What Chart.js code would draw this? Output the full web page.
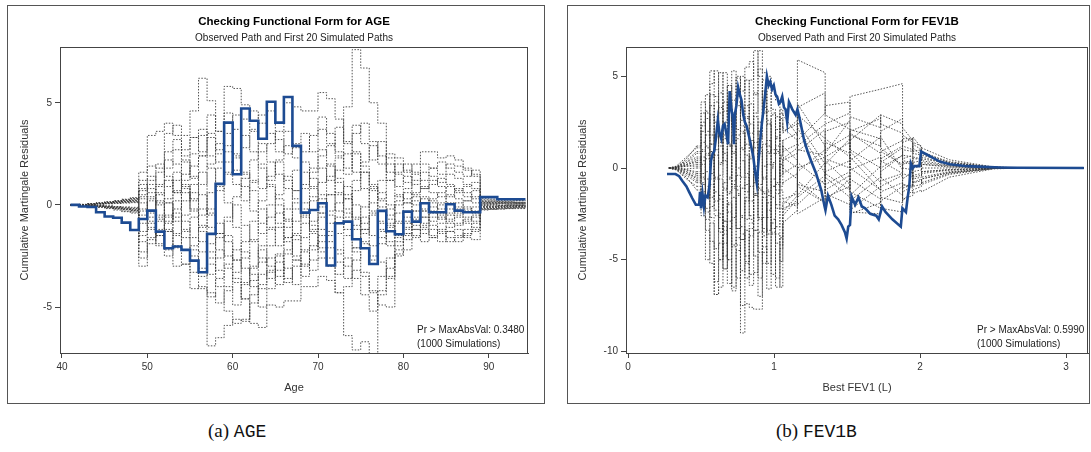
<!DOCTYPE html>
<html>
<head>
<meta charset="utf-8">
<script src="https://cdn.jsdelivr.net/npm/chart.js@4.4.1/dist/chart.umd.min.js"></script>
<style>
  body { margin: 0; background: #fff; width: 1091px; height: 452px; position: relative; overflow: hidden; }
  .frame { position: absolute; border: 1px solid #555; }
  .caption { position: absolute; top: 420px; font-family: "Liberation Serif", "DejaVu Serif", serif; font-size: 19px; color: #111; white-space: nowrap; }
  .caption .tt { font-family: "Liberation Mono", "DejaVu Sans Mono", monospace; font-size: 18px; }
</style>
</head>
<body>
<div class="frame" style="left:7px;top:5px;width:536px;height:397px"><canvas id="ageChart" width="536" height="397"></canvas></div>
<div class="frame" style="left:567px;top:5px;width:521px;height:397px"><canvas id="fevChart" width="521" height="397"></canvas></div>
<div class="caption" style="left:208px">(a) <span class="tt">AGE</span></div>
<div class="caption" style="left:776px">(b) <span class="tt">FEV1B</span></div>

<script>
// ---- Panel (a): AGE ----
const ageX = [41,42,43,44,45,46,47,48,49,50,51,52,53,54,55,56,57,58,59,60,61,62,63,64,65,66,67,68,69,70,
  71,72,73,74,75,76,77,78,79,80,81,82,83,84,85,86,87,88,89,90,91,92,93,94.3];
const ageObserved = [0,-0.08,-0.1,-0.36,-0.57,-0.63,-0.87,-1.23,
  -0.69,-0.28,-1.31,-2.12,-2.04,-2.2,-2.73,-3.3,-1.42,1.03,
  4.03,1.5,4.72,4.12,3.24,5.05,4.03,5.28,2.89,-0.38,
  -0.25,0.08,-2.97,-0.9,-0.82,-1.68,-2.12,-2.89,-0.29,-1.29,
  -1.44,-0.33,-0.82,0.08,-0.36,-0.36,0.03,-0.28,-0.36,-0.36,
  0.38,0.38,0.28,0.28,0.28,0.28];
// first 20 simulated paths (values at each ageX)
const ageSims = [
  [0,0,0.05,0.1,0.15,0.2,0.25,0.3, 1.6,1.9,1.8,3.5,3.9,3.4,4.6,6.2,5.1,3.6, 2.9,2.3,1.5,1.2,0.8,1.4,2.2,2.9,2.3,1.6, 0.9,1.8,1.2,0.5,-0.4,-1.2,-0.6,-1.5,-0.9,-0.2, 0.5,0.1,-0.3,0.4,0.2,0.1,0.5,0.3,0.2,0.1, 0.2,0.2,0.15,0.15,0.1,0.1],
  [0,0,-0.05,-0.1,-0.15,-0.2,-0.3,-0.35, -3.0,-1.9,-1.2,-2.2,-3.0,-2.9,-4.1,-4.0,-6.9,-6.5, -5.9,-5.6,-5.7,-4.8,-3.9,-3.2,-2.4,-1.6,-2.5,-3.0, -2.2,-1.5,-2.1,-2.8,-3.6,-2.7,-1.9,-2.5,-1.6,-1.0, -1.4,-0.8,-1.2,-1.8,-1.6,-1.2,-1.1,-0.9,-0.7,-0.5, -0.2,-0.2,-0.15,-0.1,-0.1,-0.1],
  [0,0.02,0.04,0.08,0.12,0.18,0.22,0.28, 0.8,3.4,3.6,4.0,3.4,2.7,3.3,3.7,2.4,2.1, 5.8,5.7,4.9,3.6,2.6,3.0,3.6,5.0,4.8,4.6, 4.6,5.5,5.2,4.2,3.1,2.5,1.6,0.7,1.2,2.5, 2.3,1.6,2.0,2.6,2.6,2.3,2.4,2.2,1.8,1.5, 0.3,0.28,0.26,0.25,0.22,0.22],
  [0,-0.02,-0.04,-0.06,-0.1,-0.12,-0.18,-0.25, -1.8,-1.2,-2.0,-2.5,-1.5,-2.2,-3.3,-4.1,-4.5,-3.6, -2.9,-3.8,-4.6,-5.8,-6.0,-4.9,-5.0,-4.7,-4.7,-4.0, -4.0,-3.5,-3.7,-4.3,-4.0,-3.2,-3.5,-4.2,-4.9,-5.0, -2.5,-2.2,-1.6,-1.2,-1.5,-1.3,-1.8,-1.6,-1.2,-0.9, -0.25,-0.22,-0.2,-0.18,-0.15,-0.15],
  [0,0.03,0.06,0.1,0.15,0.2,0.28,0.36, 0.4,0.6,0.1,-0.5,0.7,1.2,1.9,2.4,3.3,2.7, 3.5,4.4,4.2,4.6,4.0,4.6,3.2,2.5,3.0,3.5, 2.6,3.7,3.0,2.4,4.8,7.6,6.7,5.0,4.0,2.0, 1.5,1.1,0.5,0.8,1.2,0.9,0.4,0.8,0.6,0.3, 0.1,0.12,0.12,0.1,0.08,0.08],
  [0,-0.03,-0.07,-0.12,-0.18,-0.25,-0.33,-0.4, -0.9,-0.4,0.5,1.2,0.6,-0.8,-1.6,-2.3,-3.4,-2.6, -1.5,-2.7,-3.8,-3.1,-2.0,-1.2,-0.4,-1.6,-0.8,0.1, -1.0,-2.1,-3.0,-4.3,-6.4,-7.1,-6.7,-7.3,-4.2,-3.1, -2.0,-1.4,-0.8,-1.0,-1.6,-1.8,-1.3,-1.2,-1.6,-1.7, -0.1,-0.1,-0.08,-0.06,-0.05,-0.05],
  [0,0.01,0.03,0.07,0.1,0.14,0.17,0.2, 1.2,1.4,0.6,0.1,-0.6,0.2,1.0,1.6,-0.4,-1.4, -0.6,0.4,1.3,2.2,3.0,2.1,1.5,0.8,1.7,2.6, 3.4,4.3,3.5,2.6,1.8,3.5,4.0,3.1,2.4,1.6, 0.9,1.4,1.0,1.6,1.4,1.1,1.5,1.3,1.0,0.8, 0.05,0.05,0.06,0.04,0.04,0.04],
  [0,-0.01,-0.02,-0.05,-0.09,-0.14,-0.2,-0.28, -2.3,-1.6,-0.7,-1.3,-2.0,-1.3,-0.6,-1.8,-2.9,-4.0, -5.2,-5.8,-5.6,-4.4,-3.4,-2.6,-3.5,-2.4,-1.5,-2.3, -3.2,-2.6,-1.8,-2.4,-1.5,-2.3,-3.3,-4.3,-3.5,-2.6, -1.8,-1.2,-0.6,-0.9,-0.6,-0.4,-0.7,-0.5,-0.3,-0.1, -0.05,-0.06,-0.04,-0.03,-0.03,-0.03],
  [0,0.02,0.05,0.09,0.13,0.18,0.25,0.32, 0.1,-0.8,-1.5,-0.9,0.2,0.9,0.3,-0.5,0.6,1.8, 2.6,1.7,0.9,-0.3,-1.4,-0.6,0.5,1.4,0.7,-0.4, -1.2,-0.6,0.5,1.7,2.5,1.6,0.8,-0.3,-1.2,-0.5, 0.2,0.8,1.5,2.0,1.8,1.5,2.0,1.9,1.7,1.4, 0.18,0.16,0.15,0.14,0.13,0.13],
  [0,-0.02,-0.06,-0.1,-0.14,-0.19,-0.24,-0.3, -0.5,0.4,1.0,1.8,2.7,2.1,1.3,2.4,1.8,0.9, 0.1,-1.1,-2.3,-3.4,-4.1,-3.3,-2.5,-3.6,-2.7,-1.6, -0.8,0.3,-0.5,-1.4,-0.6,0.7,1.6,0.9,0.2,-0.7, -1.6,-0.9,-0.3,0.3,0.1,-0.2,-0.4,-0.2,-0.1,-0.3, -0.15,-0.14,-0.12,-0.12,-0.1,-0.1],
  [0,0,0.02,0.05,0.08,0.12,0.16,0.21, -0.2,-1.1,-1.9,-1.3,-0.4,-1.2,-2.2,-3.1,-4.3,-4.8, -4.2,-3.3,-2.6,-1.7,-2.6,-3.6,-2.8,-3.8,-3.0,-2.2, -1.4,-2.3,-1.5,-0.6,0.3,-0.7,-1.8,-2.7,-1.9,-1.1, -0.4,-1.1,-0.7,-0.3,-0.8,-0.6,-0.9,-1.0,-0.8,-0.6, 0.02,0.02,0,0.01,0,0],
  [0,-0.01,-0.03,-0.05,-0.07,-0.1,-0.15,-0.18, 0.7,1.2,2.0,1.4,0.6,1.5,2.5,3.4,4.4,3.6, 4.5,3.7,2.8,3.7,4.4,3.5,2.6,3.6,2.8,2.1, 1.3,0.5,1.4,2.3,1.5,2.6,1.9,1.0,0.3,1.2, 2.0,1.7,1.2,0.8,1.0,1.3,1.0,0.7,0.9,1.1, 0.25,0.24,0.22,0.2,0.2,0.2],
  [0,0.01,0.04,0.06,0.09,0.11,0.14,0.16, -1.3,-0.6,0.2,0.9,1.6,0.8,-0.2,-1.0,-1.9,-0.9, -1.8,-2.7,-1.8,-0.8,0.2,1.0,0.3,-0.7,-1.7,-0.9, 0.2,1.1,2.0,1.3,0.5,-0.6,-1.4,-0.5,0.6,0.0, -0.8,-1.5,-1.0,-1.4,-1.2,-0.9,-1.3,-1.5,-1.4,-1.2, -0.18,-0.18,-0.16,-0.15,-0.14,-0.14],
  [0,-0.02,-0.04,-0.07,-0.11,-0.16,-0.22,-0.26, 0.3,-0.3,0.9,2.2,2.0,1.0,0.2,1.0,2.0,3.0, 2.1,1.0,0.2,1.1,2.0,1.2,2.1,1.2,0.3,-0.6, 0.4,-0.4,-1.3,-2.2,-3.0,-2.1,-1.2,-2.0,-2.8,-3.6, -2.2,-1.4,-1.5,-1.1,-0.4,-0.7,-0.2,0.1,-0.2,-0.4, -0.08,-0.07,-0.06,-0.06,-0.05,-0.05],
  [0,0.02,0.03,0.05,0.07,0.09,0.12,0.14, -0.7,0.2,-0.5,-1.2,-2.1,-2.9,-2.0,-1.1,-0.2,0.7, 1.6,2.5,3.4,2.6,1.8,0.9,0.0,-0.8,0.1,1.0, 1.8,2.7,1.9,1.1,0.3,1.2,2.1,2.9,2.0,1.2, 0.4,0.3,0.6,0.9,0.6,0.4,0.1,-0.1,0.2,0.4, 0.12,0.1,0.1,0.09,0.08,0.08],
  [0,-0.01,-0.01,-0.03,-0.05,-0.08,-0.1,-0.12, -1.5,-0.9,-1.5,-0.6,-1.4,-0.5,0.6,-0.2,-1.1,-2.2, -3.1,-2.2,-3.1,-4.0,-5.0,-4.1,-3.2,-2.2,-1.4,-0.5, -1.3,-0.4,0.5,-0.3,-1.2,-2.1,-1.2,-0.4,-1.3,-2.0, -1.5,-0.6,0.2,-0.3,-0.1,-0.5,-0.8,-0.6,-0.9,-1.1, -0.22,-0.2,-0.2,-0.18,-0.18,-0.18],
  [0,0.01,0.02,0.03,0.05,0.07,0.09,0.11, 0.5,1.0,1.6,2.6,3.2,2.4,3.3,2.6,3.5,2.5, 1.5,2.4,1.6,0.7,-0.2,-1.1,-2.0,-1.1,-0.2,0.8, 1.6,2.4,2.9,3.8,3.0,3.9,3.0,2.2,3.1,2.3, 1.6,2.0,1.6,1.2,1.8,2.1,1.8,1.6,1.4,1.7, 0.15,0.14,0.14,0.13,0.12,0.12],
  [0,-0.01,-0.02,-0.04,-0.06,-0.09,-0.12,-0.16, -2.6,-1.7,-0.8,0.1,-0.8,-1.6,-2.5,-3.5,-2.6,-1.6, -0.8,0.0,-1.0,-1.8,-0.9,0.0,-0.9,-1.8,-2.7,-3.5, -2.7,-1.8,-2.6,-3.4,-2.6,-3.6,-4.4,-5.2,-4.4,-3.5, -2.4,-1.7,-1.2,-0.6,-1.0,-1.4,-1.6,-1.8,-1.5,-1.3, -0.12,-0.12,-0.1,-0.1,-0.08,-0.08],
  [0,0.02,0.04,0.07,0.11,0.15,0.2,0.24, 1.0,0.3,-0.6,0.3,1.2,2.2,1.4,0.5,-0.5,-1.4, -2.5,-3.6,-4.6,-3.7,-2.8,-2.0,-1.1,-0.2,0.7,-0.2, 0.8,-0.1,-0.9,0.1,0.9,0.0,-0.9,0.1,-0.8,-1.8, -0.9,0.1,0.4,-0.2,0.3,0.6,0.9,0.6,0.4,0.7, 0.08,0.07,0.07,0.06,0.05,0.05],
  [0,-0.03,-0.05,-0.08,-0.12,-0.17,-0.2,-0.22, -0.3,0.8,0.0,-0.8,-0.2,0.6,-0.3,-1.3,-2.3,-3.2, -4.0,-4.9,-3.9,-3.0,-2.2,-3.0,-3.9,-3.1,-3.9,-2.9, -2.0,-1.2,-0.3,0.6,-0.2,-1.0,-0.1,0.8,-0.1,-0.9, 0.0,0.6,0.0,-0.6,-0.3,0.0,-0.5,-0.4,-0.6,-0.8, -0.03,-0.04,-0.03,-0.02,-0.02,-0.02]
];
const ageXTicks = [40,50,60,70,80,90];
const ageYTicks = [-5,0,5];

// ---- Panel (b): FEV1B ----
const fevObsX = [0.267,0.325,0.35,0.371,0.40,0.418,0.44,0.464,0.487,0.493,0.50,0.51,0.52,0.53,0.545,0.557,0.568,0.58,0.59,0.603,
  0.615,0.626,0.638,0.65,0.661,0.673,0.685,0.696,0.708,0.719,0.725,0.731,0.742,0.754,0.766,0.777,0.789,0.80,0.812,0.835,
  0.858,0.870,0.882,0.893,0.905,0.916,0.928,0.940,0.951,0.963,0.974,0.986,0.998,1.01,1.021,1.033,1.044,1.056,1.068,1.079,
  1.090,1.102,1.125,1.148,1.16,1.172,1.183,1.206,1.230,1.253,1.288,1.323,1.346,1.352,1.369,1.392,1.415,1.439,1.462,1.485,
  1.497,1.508,1.52,1.531,1.555,1.578,1.601,1.624,1.659,1.70,1.717,1.74,1.763,1.81,1.868,1.879,1.903,1.915,1.926,1.937,
  1.95,1.961,1.995,2.007,2.042,2.088,2.135,2.204,2.32,2.436,2.552,2.668,3.121];
const fevObserved = [-0.33,-0.33,-0.45,-0.7,-1.0,-1.3,-1.65,-2.0,-2.0,-1.3,-2.2,-1.4,-2.1,-1.5,-1.6,-1.0,0.4,0.8,0.9,1.7,
  2.6,1.9,1.6,2.3,2.4,1.9,1.3,4.2,3.2,2.7,1.3,2.9,3.4,4.4,4.0,3.7,2.9,2.5,2.3,1.5,
  0.6,-0.2,-0.85,0.3,1.5,2.4,3.2,4.1,5.0,4.5,4.7,4.3,4.5,4.0,3.9,3.5,3.6,3.9,3.3,3.2,
  2.5,3.6,3.2,2.9,3.2,2.8,2.4,1.5,0.9,0.4,-0.3,-1.2,-2.1,-2.3,-1.5,-2.0,-2.6,-2.8,-3.1,-3.5,
  -3.85,-3.2,-3.1,-1.55,-2.0,-1.6,-2.1,-2.2,-2.5,-2.6,-2.8,-2.1,-2.4,-2.8,-3.2,-2.2,-2.4,-1.6,-1.0,0.25,
  0.0,0.1,0.1,0.9,0.75,0.55,0.35,0.2,0.1,0.06,0.03,0.01,0.0];
// repeated x values mark the vertical jumps of the simulated paths
const fevSimX = [0.28,0.33,0.40,0.47,0.50,0.53,0.56,0.59,0.62,0.65,0.68,0.71,0.74,0.77,0.80,0.83,0.86,0.89,0.92,0.95,
  0.98,1.01,1.04,1.06,1.16,1.16,1.35,1.35,1.52,1.52,1.73,1.73,1.88,1.88,1.95,1.95,2.01,2.01,2.2,2.5,2.7,3.12];
const fevSims = [
  [0,0,0.5,1.2,3.6,2.0,4.0,2.5,5.2,3.1, 4.5,2.2,3.4,1.0,2.7,4.8,6.4,5.0,3.0,5.0, 3.2,1.6,2.4,1.9,2.6,5.9,5.2,2.4,3.0,3.9, 4.3,4.3,4.6,1.4,1.6,0.9,1.0,0.5,0.25,0.05, 0,0],
  [0,-0.1,-0.6,-1.0,-2.6,-5.0,-3.0,-6.9,-4.1,-5.5, -2.0,-6.7,-3.8,-9.0,-5.2,-3.3,-1.5,-2.8,-5.2,-1.9, -3.5,-6.5,-4.4,-2.6,-1.7,-2.5,-1.6,-1.8,-0.6,-2.5, -1.9,-1.3,-0.8,-1.8,-1.2,-1.4,-1.2,-1.3,-0.5,-0.05, 0,0],
  [0,0.05,0.3,0.8,-0.5,1.8,5.3,3.9,1.4,5.2, 2.6,5.3,2.1,0.4,-1.3,0.5,2.8,1.1,-0.6,1.5, 0.2,2.1,3.2,2.9,1.8,3.5,1.2,0.8,2.6,2.8, 2.2,2.9,2.4,2.2,1.5,1.7,1.1,0.8,0.35,0.05, 0,0],
  [0,-0.05,-0.3,-0.5,0.6,-2.2,-4.0,-6.9,-6.5,-3.2, -6.3,-1.6,-4.2,-7.5,-7.4,-7.6,-7.7,-7.7,-4.3,-6.6, -2.8,-4.1,-6.5,-3.0,-2.3,-0.7,-1.9,0.6,1.4,-0.6, -1.7,-2.2,-2.4,0.2,0.4,-0.8,-0.6,-0.9,-0.35,-0.03, 0,0],
  [0,0.1,0.6,1.1,2.3,4.0,1.3,2.8,0.2,3.6, 1.3,-0.9,1.8,4.2,5.5,5.8,4.0,6.4,5.2,3.1, 4.2,3.7,1.5,0.9,1.3,2.2,-0.3,-1.2,-0.4,-1.3, -2.2,-1.0,-0.4,-1.1,-0.9,0.3,0.4,0.6,0.2,0.03, 0,0],
  [0,-0.1,-0.5,-1.2,-1.5,0.5,-2.1,-0.6,-3.3,-0.8, 1.2,3.0,4.9,2.3,0.7,-1.8,-3.4,-0.9,1.3,-1.2, -3.3,-1.4,0.6,1.2,0.4,-1.5,0.3,-0.3,-1.2,0.4, 1.7,1.1,0.1,-0.6,-0.2,-1.0,-0.9,-0.6,-0.25,-0.02, 0,0],
  [0,0.02,0.2,0.5,2.0,3.1,4.6,5.3,3.0,0.8, -1.4,0.9,3.6,2.0,-0.5,-2.8,-0.4,2.0,4.2,2.6, 0.3,-1.2,0.5,0.0,-0.6,0.9,2.1,1.6,0.6,1.9, 0.8,0.4,-0.3,1.0,0.9,1.3,1.0,0.3,0.12,0.01, 0,0],
  [0,-0.03,-0.2,-0.6,-0.9,-3.4,-5.2,-6.2,-5.0,-3.6, -5.0,-6.5,-4.5,-2.7,-4.8,-6.4,-5.7,-3.5,-1.6,-3.6, -5.8,-3.2,-1.2,-1.7,-1.4,-2.0,-0.6,-1.4,-2.0,-2.3, -1.0,-1.6,-1.9,-0.9,-1.0,-0.5,-0.4,0.2,0.1,0.01, 0,0],
  [0,0.08,0.4,0.9,3.0,1.1,-1.6,1.0,3.3,0.4, -2.4,-4.2,-1.5,1.1,3.4,1.5,-0.8,-2.7,0.1,2.4, 0.8,-0.9,-2.2,-1.8,-2.1,1.5,3.0,3.4,3.6,1.8, 1.2,2.0,2.7,1.8,1.4,1.1,0.7,1.1,0.45,0.06, 0,0],
  [0,-0.08,-0.4,-0.8,-0.3,-1.6,0.9,-2.3,-5.0,-2.9, -0.6,1.5,-1.2,-3.9,-1.8,0.6,-1.4,-4.6,-2.7,0.2, -1.6,-3.6,-5.1,-2.4,-1.5,-0.2,1.0,1.4,0.8,-0.1, 0.6,-0.5,-1.5,-1.3,-1.0,-0.2,-0.1,-0.5,-0.2,-0.02, 0,0],
  [0,0.04,0.2,0.3,1.4,2.7,0.6,-1.8,0.3,2.5, 4.5,2.3,0.0,-2.6,-0.9,1.9,4.1,1.8,-0.5,-2.7, -0.6,1.7,-0.4,0.5,1.1,2.5,0.2,1.0,1.8,1.5, 2.9,2.4,1.9,1.2,1.0,0.5,0.5,0.4,0.15,0.02, 0,0],
  [0,-0.02,-0.1,-0.3,0.9,-0.6,-2.7,-4.4,-2.5,-4.8, -2.9,-0.7,1.6,-0.5,-2.8,-1.0,1.4,-1.1,-3.3,-5.2, -3.0,-0.8,1.2,0.6,0.0,-1.0,-1.9,-0.9,-0.2,-1.8, -0.5,0.3,1.1,-0.3,-0.5,0.1,0.2,-0.2,-0.08,-0.01, 0,0],
  [0,0.03,0.1,0.2,-0.8,0.7,2.9,0.7,-1.5,-3.4, -1.3,1.2,-1.0,-3.2,-5.1,-3.0,-0.6,1.6,3.3,1.2, -1.0,0.9,2.7,2.0,2.4,0.3,-0.9,0.2,1.6,0.9, -0.8,-0.2,0.7,1.6,1.6,0.8,0.7,0.9,0.3,0.04, 0,0],
  [0,-0.06,-0.3,-0.7,-1.3,1.2,3.4,1.0,-1.7,-4.1, -1.9,-4.3,-6.0,-3.9,-1.6,0.7,-1.5,0.8,-1.4,0.8, 2.9,0.8,-1.0,-0.8,-0.3,-1.6,-0.4,0.4,-0.9,-1.5, 0.1,0.9,1.5,0.7,0.6,-0.4,-0.3,-0.3,-0.12,-0.01, 0,0],
  [0,0.06,0.3,0.6,0.2,-2.4,-0.3,2.2,4.1,1.8, -0.5,1.8,3.9,5.0,2.8,0.6,3.0,5.4,3.1,0.9, 3.0,1.0,-0.8,0.4,0.8,3.3,4.1,2.9,2.1,1.0, 0.0,0.5,1.2,0.5,0.7,1.4,1.2,0.7,0.3,0.04, 0,0],
  [0,-0.04,-0.2,-0.4,-2.0,-0.2,1.8,-0.5,-2.7,-5.5, -3.3,-1.1,-3.3,-5.6,-3.4,-5.8,-3.4,-6.0,-3.7,-1.5, -3.6,-6.0,-3.8,-2.2,-1.9,0.0,0.6,-0.5,-1.6,-2.4, -2.5,-1.8,-1.0,-1.7,-1.5,-1.2,-1.0,-0.6,-0.25,-0.03, 0,0],
  [0,0.01,0.1,0.1,0.4,-1.0,1.3,3.6,1.2,-1.1, 1.4,3.7,5.0,2.6,4.8,2.4,0.1,2.5,4.8,2.4, 0.1,-2.0,0.2,-0.3,0.2,1.2,2.4,0.5,0.0,2.1, 1.6,0.9,0.2,0.4,0.3,0.0,0.1,0.2,0.05,0.0, 0,0],
  [0,-0.01,-0.1,-0.2,1.0,3.0,0.9,-1.3,-3.5,-1.2, 1.2,-1.0,-3.3,-1.1,1.3,3.5,1.1,-1.2,-3.5,-1.3, 1.0,2.8,0.7,1.5,1.9,1.0,0.7,2.0,2.5,0.0, -1.2,0.0,0.7,0.0,-0.1,0.6,0.5,0.0,0.0,0.0, 0,0],
  [0,0,-0.05,0,-0.6,-2.8,-0.6,1.7,-0.6,-2.9, -5.0,-2.7,-0.4,1.9,-0.3,-2.6,-4.8,-7.0,-4.6,-2.3, 0.0,-2.2,-4.2,-2.0,-1.2,-0.9,-1.3,-0.2,0.4,0.6, -1.2,-0.7,-0.3,-0.9,-1.1,-0.8,-0.7,-0.8,-0.3,-0.03, 0,0],
  [0,0.02,0.15,0.4,2.5,0.8,-0.9,-2.6,-0.4,1.6, 3.5,0.8,-1.4,-3.6,-6.0,-3.7,-1.4,0.9,-1.3,-3.4, -1.0,1.2,3.0,2.2,1.5,2.9,1.6,-1.6,-1.0,2.0, 2.7,1.7,-0.1,0.3,0.2,-0.6,-0.5,-0.2,-0.1,-0.01, 0,0]
];
const fevXTicks = [0,1,2,3];
const fevYTicks = [-10,-5,0,5];

const FONT = '"Liberation Sans", Arial, sans-serif';
const OBS_COLOR = '#1d4b92';
const SIM_COLOR = 'rgba(55,55,55,0.85)';

// titles, box round the plot and the p-value note
const panelText = {
  id: 'panelText',
  afterDraw(chart, args, opts) {
    const { ctx, chartArea: a } = chart;
    ctx.save();
    ctx.strokeStyle = '#444';
    ctx.lineWidth = 1;
    ctx.strokeRect(Math.round(a.left) + 0.5, Math.round(a.top) + 0.5,
      Math.round(a.right - a.left) - 1, Math.round(a.bottom - a.top));
    const cx = (a.left + a.right) / 2;
    ctx.fillStyle = '#000';
    ctx.textAlign = 'center';
    ctx.textBaseline = 'middle';
    ctx.font = 'bold 11.5px ' + FONT;
    ctx.fillText(opts.title, cx, a.top - 25);
    ctx.fillStyle = '#222';
    ctx.font = '10px ' + FONT;
    ctx.fillText(opts.subtitle, cx, a.top - 9);
    ctx.textAlign = 'left';
    ctx.fillText(opts.note[0], a.right - 111, a.bottom - 23);
    ctx.fillText(opts.note[1], a.right - 111, a.bottom - 9);
    ctx.restore();
  }
};

const toPoints = (xs, ys) => xs.map((x, i) => ({ x: x, y: ys[i] }));

const checkLengths = (name, xs, series) => {
  series.forEach((s, i) => {
    if (s.length !== xs.length) throw new Error(name + ' sim ' + (i + 1) + ' has ' + s.length + ' values, expected ' + xs.length);
  });
};

const simStyle = {
  borderColor: SIM_COLOR,
  borderWidth: 1,
  borderDash: [1.5, 1.5],
  pointRadius: 0
};

const makePanel = (id, p) => {
  const datasets = [{
    data: toPoints(p.obsX, p.obs),
    borderColor: OBS_COLOR,
    borderWidth: 2.6,
    pointRadius: 0,
    stepped: p.stepped
  }];
  // each simulated path may be drawn in pieces: stepped where it jumps, straight where it drifts
  p.sims.forEach(s => {
    const pts = toPoints(p.simX, s);
    p.simPieces.forEach(([from, to, stepped]) => {
      datasets.push(Object.assign({ data: pts.slice(from, to + 1), stepped: stepped }, simStyle));
    });
  });

  new Chart(document.getElementById(id), {
    type: 'line',
    data: { datasets: datasets },
    plugins: [panelText],
    options: {
      responsive: false,
      animation: false,
      events: [],
      layout: { padding: p.padding },
      plugins: {
        legend: { display: false },
        tooltip: { enabled: false },
        panelText: { title: p.title, subtitle: 'Observed Path and First 20 Simulated Paths', note: p.note }
      },
      scales: {
        x: {
          type: 'linear',
          min: p.xMin, max: p.xMax,
          afterBuildTicks: s => { s.ticks = p.xTicks.map(v => ({ value: v })); },
          afterFit: s => { s.height = 42; },
          grid: { display: true, drawOnChartArea: false, drawTicks: true, tickLength: 5, color: '#444' },
          border: { display: true, color: '#444' },
          ticks: { color: '#333', font: { family: FONT, size: 10 }, padding: 3, maxRotation: 0 },
          title: { display: true, text: p.xTitle, color: '#333', font: { family: FONT, size: 11 }, padding: 0 }
        },
        y: {
          type: 'linear',
          min: p.yMin, max: p.yMax,
          afterBuildTicks: s => { s.ticks = p.yTicks.map(v => ({ value: v })); },
          afterFit: s => { s.width = p.yWidth; },
          grid: { display: true, drawOnChartArea: false, drawTicks: true, tickLength: 5, color: '#444' },
          border: { display: true, color: '#444' },
          ticks: { color: '#333', font: { family: FONT, size: 10 }, padding: 3 },
          title: { display: true, text: 'Cumulative Martingale Residuals', color: '#333', font: { family: FONT, size: 11 }, padding: 0 }
        }
      }
    }
  });
};

checkLengths('age', ageX, [ageObserved].concat(ageSims));
checkLengths('fev', fevSimX, fevSims);
checkLengths('fevObs', fevObsX, [fevObserved]);

makePanel('ageChart', {
  title: 'Checking Functional Form for AGE',
  note: ['Pr > MaxAbsVal: 0.3480', '(1000 Simulations)'],
  xTitle: 'Age',
  obsX: ageX, obs: ageObserved, simX: ageX, sims: ageSims,
  stepped: 'before',
  simPieces: [[0, ageX.length - 1, 'before']],
  xMin: 39.77, xMax: 94.6, yMin: -7.25, yMax: 7.73,
  xTicks: ageXTicks, yTicks: ageYTicks,
  yWidth: 42,
  padding: { left: 10, right: 16, top: 41, bottom: 8 }
});

makePanel('fevChart', {
  title: 'Checking Functional Form for FEV1B',
  note: ['Pr > MaxAbsVal: 0.5990', '(1000 Simulations)'],
  xTitle: 'Best FEV1 (L)',
  obsX: fevObsX, obs: fevObserved, simX: fevSimX, sims: fevSims,
  stepped: false,
  simPieces: [[0, 3, false], [3, 23, 'before'], [23, fevSimX.length - 1, false]],
  xMin: -0.014, xMax: 3.15, yMin: -10.09, yMax: 6.6,
  xTicks: fevXTicks, yTicks: fevYTicks,
  yWidth: 50,
  padding: { left: 8, right: 1, top: 41, bottom: 8 }
});
</script>
</body>
</html>
